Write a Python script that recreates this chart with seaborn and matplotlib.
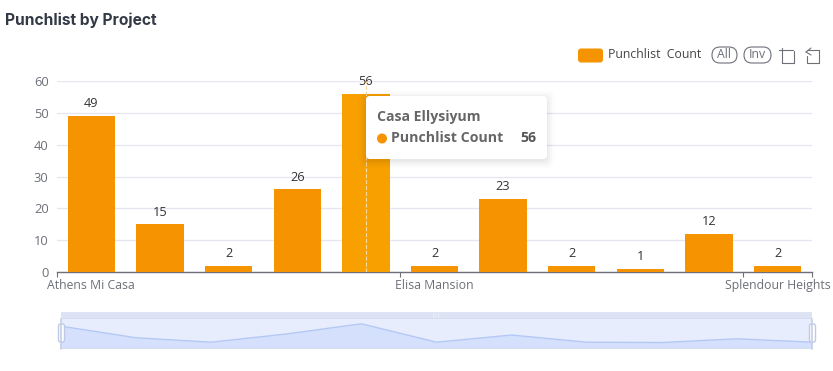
import matplotlib
matplotlib.use('Agg')
import matplotlib.pyplot as plt
import seaborn as sns
import pandas as pd
from matplotlib.patches import FancyBboxPatch, Rectangle, Circle

projects = ['Athens Mi Casa', 'p2', 'p3', 'p4', 'Casa Ellysiyum', 'Elisa Mansion',
            'p7', 'p8', 'p9', 'p10', 'Splendour Heights']
counts = [49, 15, 2, 26, 56, 2, 23, 2, 1, 12, 2]
shown_labels = ['Athens Mi Casa', '', '', '', '', 'Elisa Mansion', '', '', '', '', 'Splendour Heights']
y_ticks = [0, 10, 20, 30, 40, 50, 60]
x_edge_ticks = [-0.5, 4.5, 9.5, 10.5]

W, H = 833, 371
orange = '#F59300'
hover = '#F7A000'
grey = '#6E7079'

sns.set_theme(style='white')
plt.rcParams['font.family'] = ['Open Sans', 'DejaVu Sans']

data = pd.DataFrame({'project': projects, 'count': counts})

fig = plt.figure(figsize=(W / 100, H / 100), dpi=100)

def box(x0, y0, x1, y1):
    # pixel box, y from the top
    return [x0 / W, 1 - y1 / H, (x1 - x0) / W, (y1 - y0) / H]

# main bars
ax = fig.add_axes(box(57, 81, 812, 272))
sns.barplot(data=data, x='project', y='count', color=orange, width=0.69, saturation=1,
            linewidth=0, ax=ax, zorder=3)
ax.patches[4].set_facecolor(hover)
ax.bar_label(ax.containers[0], padding=4, fontsize=9.2, color='#333333')
ax.set_xlim(-0.5, 10.5)
ax.set_ylim(0, 60)
ax.set_yticks(y_ticks)
ax.set_xlabel('')
ax.set_ylabel('')
ax.yaxis.grid(True, color='#E6E6F3', linewidth=0.9)
ax.set_axisbelow(True)
for s in ['top', 'right', 'left']:
    ax.spines[s].set_visible(False)
ax.spines['bottom'].set_color(grey)
ax.spines['bottom'].set_linewidth(1)
ax.set_xticks(range(len(projects)))
ax.set_xticklabels(shown_labels)
ax.set_xticks(x_edge_ticks, minor=True)
ax.tick_params(axis='x', which='major', length=0, pad=5, labelsize=8.8, labelcolor=grey)
ax.tick_params(axis='x', which='minor', length=3.5, width=0.8, color=grey, bottom=True)
ax.tick_params(axis='y', length=0, pad=6, labelsize=9.3, labelcolor=grey)
ax.axvline(4, color='#F8D9A0', linestyle='--', linewidth=0.8, zorder=4)

# zoom slider
mini = fig.add_axes(box(61, 319, 812, 348))
xs = list(range(len(counts)))
sns.lineplot(x=xs, y=counts, color='#B4C8F5', linewidth=1, ax=mini)
mini.fill_between(xs, counts, -15, color='#D5E1FC', linewidth=0)
mini.set_facecolor('#E7EDFD')
mini.set_xlim(0, 10)
mini.set_ylim(-15, 70)
mini.set_xticks([])
mini.set_yticks([])
for s in mini.spines.values():
    s.set_visible(False)

# everything else sits on a pixel overlay
top = fig.add_axes([0, 0, 1, 1])
top.set_xlim(0, W)
top.set_ylim(H, 0)
top.axis('off')
top.patch.set_alpha(0)

top.text(5, 20.5, 'Punchlist by Project', family='Inter', fontsize=11.2, fontweight='bold', color='#333a45', va='center')

# legend and toolbox
top.add_patch(FancyBboxPatch((578, 48.5), 25, 14, boxstyle='round,pad=0,rounding_size=3', fc=orange, ec='none'))
top.text(608, 55, 'Punchlist  Count', fontsize=8.8, color='#444444', va='center')
for label, x0, x1 in [('All', 712, 737), ('Inv', 744, 771)]:
    top.add_patch(FancyBboxPatch((x0, 47), x1 - x0, 16, boxstyle='round,pad=0,rounding_size=8',
                                 fc='white', ec=grey, lw=0.8))
    top.text((x0 + x1) / 2, 54.5, label, fontsize=8.8, color=grey, ha='center', va='center')
top.plot([779, 793], [50, 50], color=grey, lw=0.8)
top.plot([782, 782], [48, 63], color=grey, lw=0.8)
top.plot([782, 794, 794], [63, 63, 51], color=grey, lw=0.8)
top.plot([807, 819, 819, 807, 807], [50, 50, 63, 63, 56], color=grey, lw=0.8)
top.plot([806, 811], [52, 48], color=grey, lw=0.8)
top.plot([806, 811], [52, 55], color=grey, lw=0.8)

# tooltip
for grow, alpha in [(7, 0.012), (5, 0.018), (3, 0.025), (1, 0.03)]:
    top.add_patch(FancyBboxPatch((366 - grow, 98 - grow), 181 + 2 * grow, 63 + 2 * grow,
                                 boxstyle='round,pad=0,rounding_size=6', fc='black', ec='none', alpha=alpha))
top.add_patch(FancyBboxPatch((366, 96), 181, 63, boxstyle='round,pad=0,rounding_size=4', fc='white', ec='none'))
top.text(377, 117.5, 'Casa Ellysiyum', fontsize=10.05, fontweight='bold', color='#666666', va='center')
top.add_patch(Circle((382, 138.5), 5, fc=orange, ec='none'))
top.text(391, 138.5, 'Punchlist Count', fontsize=10.15, fontweight='bold', color='#666666', va='center')
top.text(536, 138.5, '56', fontsize=10.15, fontweight='bold', color='#555555', va='center', ha='right')

# slider chrome
top.add_patch(Rectangle((61, 312), 751, 7, fc='#DDE3F2', ec='none'))
top.add_patch(Rectangle((61, 318), 751, 1, fc='#D5DCF0', ec='none'))
top.add_patch(Rectangle((61, 348), 751, 1, fc='#D5DCF0', ec='none'))
top.plot([61, 61], [319, 349], color='#C5CEE6', lw=1.2)
top.plot([812, 812], [319, 349], color='#C5CEE6', lw=1.2)
for xc in [61.5, 812.5]:
    top.add_patch(FancyBboxPatch((xc - 3, 324), 6, 18, boxstyle='round,pad=0,rounding_size=2',
                                 fc='white', ec='#C0CAE4', lw=1))
top.text(436.5, 315.5, '|||', fontsize=4, color='white', ha='center', va='center')

fig.savefig('out.png', dpi=100)
